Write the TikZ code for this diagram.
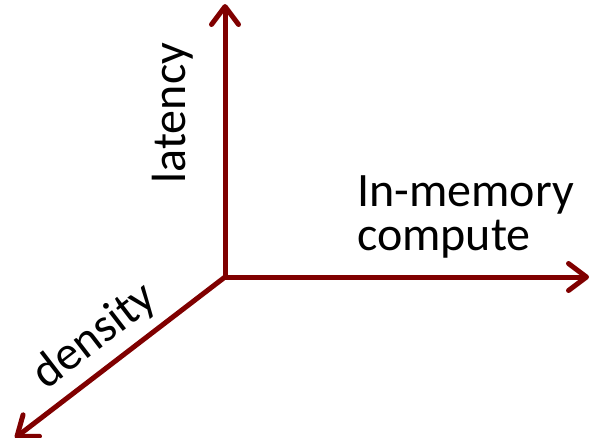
\documentclass[tikz,border=0pt]{standalone}
\usepackage{fontspec}
\setmainfont{Carlito}
\usetikzlibrary{arrows.meta}
\definecolor{axisred}{RGB}{128,0,0}
\tikzset{
  axis/.style={draw=axisred, line width=5pt,
    -{Straight Barb[length=18pt, width=27pt, round]}},
  axislabel/.style={inner sep=0pt, text=black,
    font=\fontsize{48}{44}\selectfont}
}
\begin{document}
\begin{tikzpicture}[x=1pt, y=-1pt]
  \useasboundingbox (0,0) rectangle (591,437);
  % origin and axis ends
  \coordinate (O) at (225,277);
  \coordinate (up) at (225,4);
  \coordinate (right) at (589,277);
  \coordinate (down) at (15,438);
  \draw[axis] (O) -- (up);
  \draw[axis] (O) -- (right);
  \draw[axis] (O) -- (down);
  % axis labels
  \node[axislabel, rotate=90, anchor=base] (lat) at (185,113) {latency};
  \node[axislabel, align=left, anchor=north west] (imc) at (357,175) {In-memory\\compute};
  \node[axislabel, rotate=37.6, anchor=base] (den) at (103,347) {density};
\end{tikzpicture}
\end{document}
